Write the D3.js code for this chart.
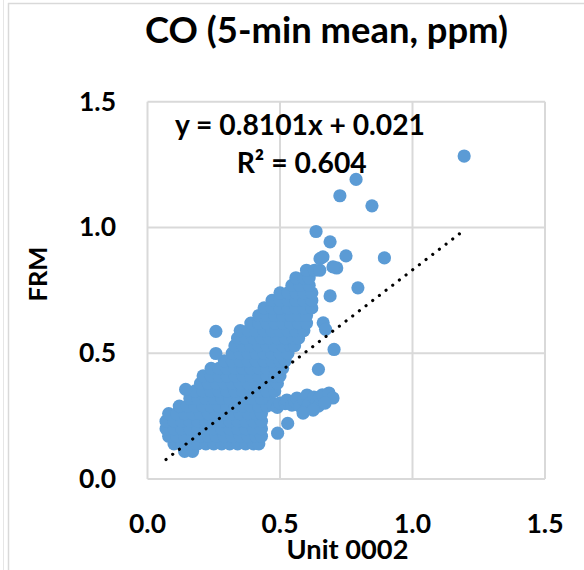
<!DOCTYPE html>
<html>
<head>
<meta charset="utf-8">
<script src="https://cdn.jsdelivr.net/npm/d3@7"></script>
<style>
html,body{margin:0;padding:0;background:#fff;}
svg{display:block;}
text{font-family:Lato,"Open Sans","Noto Sans",sans-serif;font-weight:700;fill:#000;}
</style>
</head>
<body>
<svg id="chart" width="584" height="570"></svg>
<script>
// ---- data ----
const chartTitle = "CO (5-min mean, ppm)";
const xTitle = "Unit 0002";
const yTitle = "FRM";
const xTicks = [0.0, 0.5, 1.0, 1.5];
const yTicks = [0.0, 0.5, 1.0, 1.5];
const trendSlope = 0.8101;
const trendIntercept = 0.021;
const trendLabel = "y = 0.8101x + 0.021";
const r2Label = "R² = 0.604";

// main cloud
const cloudPoints = [
  [0.14,0.11],[0.17,0.11],
  [0.10,0.14],[0.13,0.14],[0.16,0.14],[0.19,0.14],[0.22,0.14],[0.25,0.14],[0.28,0.14],[0.31,0.14],[0.34,0.14],[0.37,0.14],[0.40,0.14],[0.42,0.14],
  [0.08,0.17],[0.11,0.17],[0.14,0.17],[0.17,0.17],[0.20,0.17],[0.23,0.17],[0.26,0.17],[0.29,0.17],[0.32,0.17],[0.35,0.17],[0.38,0.17],[0.41,0.17],[0.43,0.17],
  [0.07,0.20],[0.10,0.20],[0.13,0.20],[0.16,0.20],[0.19,0.20],[0.22,0.20],[0.25,0.20],[0.28,0.20],[0.31,0.20],[0.34,0.20],[0.37,0.20],[0.40,0.20],[0.43,0.20],
  [0.07,0.23],[0.10,0.23],[0.13,0.23],[0.16,0.23],[0.19,0.23],[0.22,0.23],[0.25,0.23],[0.28,0.23],[0.31,0.23],[0.34,0.23],[0.37,0.23],[0.40,0.23],[0.43,0.23],
  [0.08,0.26],[0.11,0.26],[0.14,0.26],[0.17,0.26],[0.20,0.26],[0.23,0.26],[0.26,0.26],[0.29,0.26],[0.32,0.26],[0.35,0.26],[0.38,0.26],[0.41,0.26],[0.43,0.26],
  [0.12,0.29],[0.15,0.29],[0.18,0.29],[0.21,0.29],[0.24,0.29],[0.27,0.29],[0.30,0.29],[0.33,0.29],[0.36,0.29],[0.39,0.29],[0.42,0.29],[0.45,0.29],
  [0.16,0.32],[0.19,0.32],[0.22,0.32],[0.25,0.32],[0.28,0.32],[0.31,0.32],[0.34,0.32],[0.37,0.32],[0.40,0.32],[0.43,0.32],[0.46,0.32],
  [0.18,0.35],[0.21,0.35],[0.24,0.35],[0.27,0.35],[0.30,0.35],[0.33,0.35],[0.36,0.35],[0.39,0.35],[0.42,0.35],[0.45,0.35],[0.48,0.35],
  [0.20,0.38],[0.23,0.38],[0.26,0.38],[0.29,0.38],[0.32,0.38],[0.35,0.38],[0.38,0.38],[0.41,0.38],[0.44,0.38],[0.47,0.38],[0.49,0.38],
  [0.21,0.41],[0.24,0.41],[0.27,0.41],[0.30,0.41],[0.33,0.41],[0.36,0.41],[0.39,0.41],[0.42,0.41],[0.45,0.41],[0.48,0.41],[0.50,0.41],
  [0.24,0.44],[0.27,0.44],[0.30,0.44],[0.33,0.44],[0.36,0.44],[0.39,0.44],[0.42,0.44],[0.45,0.44],[0.48,0.44],[0.51,0.44],
  [0.29,0.47],[0.32,0.47],[0.35,0.47],[0.38,0.47],[0.41,0.47],[0.44,0.47],[0.47,0.47],[0.50,0.47],[0.52,0.47],
  [0.32,0.50],[0.35,0.50],[0.38,0.50],[0.41,0.50],[0.44,0.50],[0.47,0.50],[0.50,0.50],[0.53,0.50],
  [0.33,0.53],[0.36,0.53],[0.39,0.53],[0.42,0.53],[0.45,0.53],[0.48,0.53],[0.51,0.53],[0.54,0.53],[0.555,0.53],
  [0.34,0.56],[0.37,0.56],[0.40,0.56],[0.43,0.56],[0.46,0.56],[0.49,0.56],[0.52,0.56],[0.55,0.56],[0.57,0.56],
  [0.35,0.59],[0.38,0.59],[0.41,0.59],[0.44,0.59],[0.47,0.59],[0.50,0.59],[0.53,0.59],[0.56,0.59],[0.59,0.59],
  [0.39,0.62],[0.42,0.62],[0.45,0.62],[0.48,0.62],[0.51,0.62],[0.54,0.62],[0.57,0.62],[0.60,0.62],
  [0.42,0.65],[0.45,0.65],[0.48,0.65],[0.51,0.65],[0.54,0.65],[0.57,0.65],[0.60,0.65],
  [0.44,0.68],[0.47,0.68],[0.50,0.68],[0.53,0.68],[0.56,0.68],[0.59,0.68],[0.62,0.68],
  [0.47,0.71],[0.50,0.71],[0.53,0.71],[0.56,0.71],[0.59,0.71],[0.62,0.71],
  [0.50,0.74],[0.53,0.74],[0.56,0.74],[0.59,0.74],[0.62,0.74],
  [0.545,0.77],[0.575,0.77],[0.61,0.77],
  [0.56,0.80],[0.59,0.80],[0.61,0.80],
  [0.60,0.83],[0.63,0.83],[0.65,0.83],
  [0.651,0.876],[0.662,0.883]
];
// lower-right arm near FRM ~0.3
const armPoints = [
  [0.474,0.294],[0.49,0.285],[0.50,0.302],[0.52,0.30],[0.526,0.314],[0.545,0.294],
  [0.555,0.31],[0.564,0.322],[0.575,0.29],[0.59,0.315],[0.60,0.28],[0.602,0.334],
  [0.61,0.30],[0.628,0.326],[0.64,0.31],[0.645,0.29],[0.651,0.326],[0.66,0.335],
  [0.685,0.342],[0.70,0.322],[0.587,0.262],[0.625,0.274],[0.67,0.302]
];
// scattered points
const outlierPoints = [
  [1.195,1.284],[0.787,1.191],[0.726,1.126],[0.847,1.086],[0.636,0.984],[0.689,0.943],
  [0.749,0.887],[0.894,0.879],[0.714,0.839],[0.70,0.843],[0.794,0.760],[0.689,0.728],
  [0.663,0.621],[0.672,0.595],[0.704,0.515],[0.645,0.436],[0.258,0.587],[0.258,0.499],
  [0.144,0.356],[0.491,0.182],[0.529,0.221]
];

// ---- drawing ----
const svg = d3.select("#chart");
const W = 584, H = 570;
const plot = {left:147.5, right:545, top:101.7, bottom:479};
const x = d3.scaleLinear().domain([0,1.5]).range([plot.left, plot.right]);
const y = d3.scaleLinear().domain([0,1.5]).range([plot.bottom, plot.top]);
const grid = "#d9d9d9";

// outer chart frame
svg.append("line").attr("x1",3.5).attr("x2",3.5).attr("y1",0).attr("y2",H).attr("stroke","#e6e6e6").attr("stroke-width",1);
svg.append("line").attr("x1",8.5).attr("x2",8.5).attr("y1",3).attr("y2",H).attr("stroke",grid).attr("stroke-width",1.5);
svg.append("line").attr("x1",8).attr("x2",W).attr("y1",3.5).attr("y2",3.5).attr("stroke",grid).attr("stroke-width",1.5);

// gridlines
const gx = svg.append("g");
gx.selectAll("line.v").data(xTicks).join("line")
  .attr("x1",d=>x(d)).attr("x2",d=>x(d)).attr("y1",plot.top).attr("y2",plot.bottom)
  .attr("stroke",grid).attr("stroke-width",2);
gx.selectAll("line.h").data(yTicks).join("line")
  .attr("y1",d=>y(d)).attr("y2",d=>y(d)).attr("x1",plot.left).attr("x2",plot.right)
  .attr("stroke",grid).attr("stroke-width",2);

// points
const allPoints = cloudPoints.concat(armPoints, outlierPoints);
svg.append("g").selectAll("circle").data(allPoints).join("circle")
  .attr("cx",d=>x(d[0])).attr("cy",d=>y(d[1])).attr("r",6.6)
  .attr("fill","#5b9bd5");

// trendline (dotted)
const xs = allPoints.map(d=>d[0]);
const xmin = d3.min(xs), xmax = d3.max(xs);
svg.append("line")
  .attr("x1",x(xmin)).attr("y1",y(trendSlope*xmin+trendIntercept))
  .attr("x2",x(xmax)).attr("y2",y(trendSlope*xmax+trendIntercept))
  .attr("stroke","#000").attr("stroke-width",3.2)
  .attr("stroke-linecap","round").attr("stroke-dasharray","0.01 8.4");

// helper to fit text width
function fit(sel, width){
  const n = sel.node();
  const fs = parseFloat(sel.attr("font-size"));
  const w = n.getComputedTextLength();
  sel.attr("font-size", fs*width/w);
  return sel;
}

// tick label font size: fit "0.0" to reference width, then temper
const probe = svg.append("text").attr("font-size",25).text("0.0");
fit(probe, 37);
const tickFs = Math.min(parseFloat(probe.attr("font-size")), 29);
probe.remove();

const fmt = d3.format(".1f");
svg.append("g").selectAll("text").data(yTicks).join("text")
  .attr("x",116).attr("y",d=>y(d)+9).attr("text-anchor","end")
  .attr("font-size",tickFs).text(d=>fmt(d));
svg.append("g").selectAll("text").data(xTicks).join("text")
  .attr("x",d=>x(d)).attr("y",532.5).attr("text-anchor","middle")
  .attr("font-size",tickFs).text(d=>fmt(d));

// titles
fit(svg.append("text").attr("x",326.5).attr("y",43.3).attr("text-anchor","middle")
  .attr("font-size",29).text(chartTitle), 363);
fit(svg.append("text").attr("x",347.5).attr("y",559).attr("text-anchor","middle")
  .attr("font-size",25).text(xTitle), 122);
fit(svg.append("text").attr("transform","translate(46.7,274) rotate(-90)").attr("text-anchor","middle")
  .attr("font-size",25).text(yTitle), 55);

// equation
fit(svg.append("text").attr("x",300).attr("y",135).attr("text-anchor","middle")
  .attr("font-size",23).text(trendLabel), 250);
fit(svg.append("text").attr("x",301.7).attr("y",173.3).attr("text-anchor","middle")
  .attr("font-size",23).text(r2Label), 130);
</script>
</body>
</html>
